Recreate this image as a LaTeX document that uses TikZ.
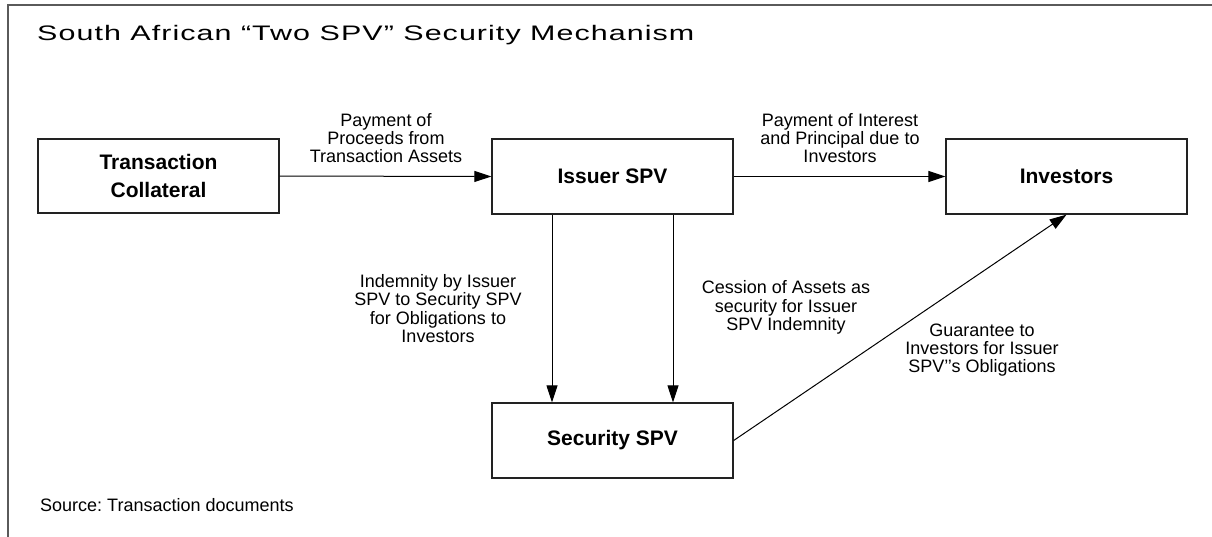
\documentclass[tikz,border=0pt]{standalone}
\usepackage{fontspec}
\setmainfont{Liberation Sans}
\newfontfamily\titlefont[FakeStretch=1.45,LetterSpace=5]{Liberation Sans}
\usetikzlibrary{arrows.meta}
\definecolor{framegray}{HTML}{5A5A5A}
\definecolor{boxline}{HTML}{222222}
\tikzset{
  box/.style={draw=boxline, line width=1.3pt, rectangle, inner sep=0pt,
    minimum width=241pt, minimum height=75pt, align=center,
    font=\fontsize{21}{28}\selectfont\bfseries},
  lbl/.style={align=center, inner sep=0pt, font=\fontsize{18}{18.4}\selectfont},
  arr/.style={draw=black, line width=1pt, -{Triangle[length=17pt,width=11pt]}},
  frameline/.style={draw=framegray, line width=2pt}
}
\frenchspacing
\begin{document}
\begin{tikzpicture}[x=1pt,y=-1pt]
\useasboundingbox (0,0) rectangle (1212,536);
\draw[frameline] (8,537) -- (8,4.5) -- (1213,4.5);
\node[anchor=base west, inner sep=0pt, font=\titlefont\fontsize{21}{24}\selectfont] (title) at (37,40) {South African “Two SPV” Security Mechanism};
\node[box, minimum height=74pt] (tc) at (158.5,176) {Transaction\\Collateral};
\node[box] (iss) at (612.5,176.5) {Issuer SPV};
\node[box] (inv) at (1066.5,176.5) {Investors};
\node[box] (sec) at (612.5,440.5) {Security SPV};
\draw[arr] (tc.east) -- (iss.west);
\draw[arr] (iss.east) -- (inv.west);
\draw[arr] ([xshift=-60.5pt]iss.south) -- ([xshift=-60.5pt]sec.north);
\draw[arr] ([xshift=60.5pt]iss.south) -- ([xshift=60.5pt]sec.north);
\draw[arr] (sec.east) -- (inv.south);
\node[lbl] (l1) at (386,138) {Payment of\\Proceeds from\\Transaction Assets};
\node[lbl] (l2) at (840,138) {Payment of Interest\\and Principal due to\\Investors};
\node[lbl] (l3) at (438,308.5) {Indemnity by Issuer\\SPV to Security SPV\\for Obligations to\\Investors};
\node[lbl] (l4) at (786,307.5) {Cession of Assets as\\security for Issuer\\SPV Indemnity};
\node[lbl] (l5) at (982,350) {Guarantee to\\Investors for Issuer\\SPV'{}'s Obligations};
\node[anchor=base west, inner sep=0pt, font=\fontsize{18}{20}\selectfont] (src) at (40,511) {Source: Transaction documents};
\end{tikzpicture}
\end{document}
